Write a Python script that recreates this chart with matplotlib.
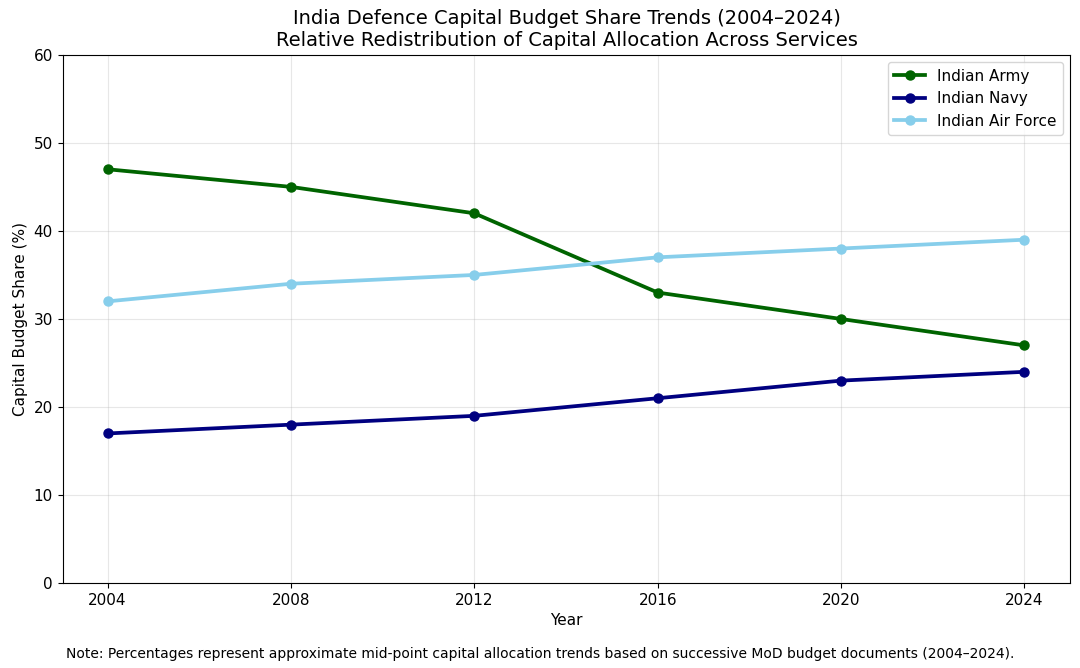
import matplotlib
matplotlib.use("Agg")
import matplotlib.pyplot as plt

years = [2004, 2008, 2012, 2016, 2020, 2024]
army = [47, 45, 42, 33, 30, 27]
navy = [17, 18, 19, 21, 23, 24]
air_force = [32, 34, 35, 37, 38, 39]

plt.rcParams['font.size'] = 11
fig = plt.figure(figsize=(10.8, 6.68), dpi=100)
ax = fig.add_axes([0.058, 0.127, 0.933, 0.791])

ax.plot(years, army, marker='o', color='darkgreen', linewidth=2.7, markersize=6.5, label='Indian Army')
ax.plot(years, navy, marker='o', color='navy', linewidth=2.7, markersize=6.5, label='Indian Navy')
ax.plot(years, air_force, marker='o', color='skyblue', linewidth=2.7, markersize=6.5, label='Indian Air Force')

ax.set_ylim(0, 60)
ax.set_xlim(2003.02, 2025.0)
ax.set_xticks(years)
ax.tick_params(labelsize=11)
ax.set_xlabel('Year', fontsize=11)
ax.set_ylabel('Capital Budget Share (%)', fontsize=11)
ax.set_title('India Defence Capital Budget Share Trends (2004–2024)\nRelative Redistribution of Capital Allocation Across Services', fontsize=14)
ax.grid(True, alpha=0.3)
ax.legend(loc='upper right', fontsize=11)

fig.text(0.5, 0.015, 'Note: Percentages represent approximate mid-point capital allocation trends based on successive MoD budget documents (2004–2024).',
         ha='center', fontsize=10)

fig.savefig('out.png', dpi=100)
